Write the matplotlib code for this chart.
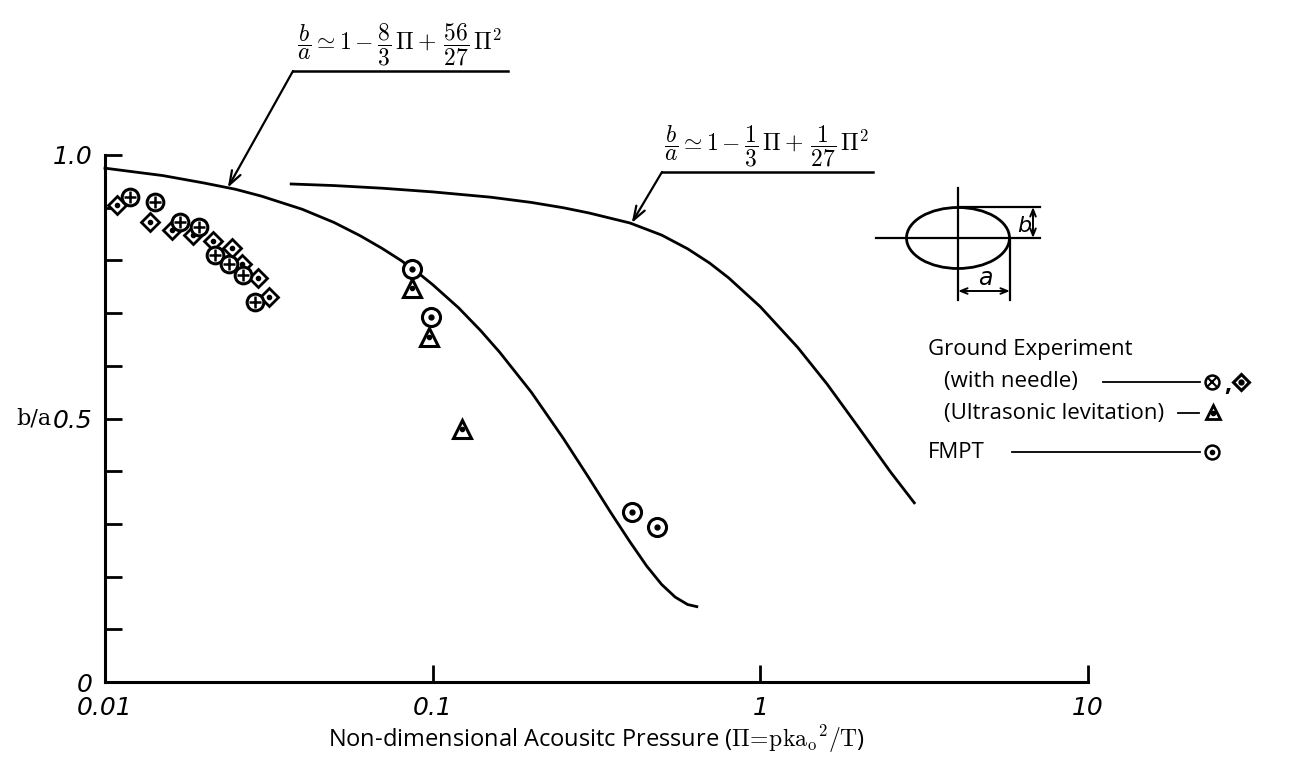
import numpy as np
import matplotlib
matplotlib.use("Agg")
import matplotlib.pyplot as plt
from matplotlib.patches import Ellipse

plt.rcParams['mathtext.fontset'] = 'cm'

# ---------------- data ----------------
# theory curve 1: b/a ~ 1 - 8/3 Pi + 56/27 Pi^2
curve1_pi = [0.01, 0.015, 0.02, 0.025, 0.03, 0.04, 0.05, 0.06, 0.07, 0.08, 0.09,
             0.10, 0.12, 0.14, 0.16, 0.20, 0.25, 0.30, 0.35, 0.40, 0.45, 0.50,
             0.55, 0.60, 0.64]
curve1_ba = [0.975, 0.961, 0.947, 0.935, 0.922, 0.897, 0.872, 0.847, 0.823, 0.800, 0.777,
             0.754, 0.710, 0.667, 0.626, 0.550, 0.463, 0.387, 0.321, 0.266, 0.220, 0.185,
             0.161, 0.147, 0.143]
# theory curve 2: b/a ~ 1 - 1/3 Pi + 1/27 Pi^2
curve2_pi = [0.037, 0.05, 0.07, 0.10, 0.15, 0.20, 0.25, 0.30, 0.40, 0.50, 0.60, 0.70, 0.80,
             1.0, 1.3, 1.6, 2.0, 2.5, 2.95]
curve2_ba = [0.945, 0.942, 0.937, 0.930, 0.920, 0.910, 0.900, 0.890, 0.871, 0.848, 0.822,
             0.795, 0.767, 0.712, 0.635, 0.565, 0.482, 0.398, 0.340]

# Ground experiment (with needle): crossed circles
needle_circ_pi = [0.0119, 0.0142, 0.0169, 0.0194, 0.0217, 0.0239, 0.0263, 0.0286]
needle_circ_ba = [0.921, 0.910, 0.872, 0.864, 0.810, 0.793, 0.772, 0.722]
# Ground experiment (with needle): diamonds
needle_diam_pi = [0.0109, 0.0137, 0.0160, 0.0185, 0.0213, 0.0244, 0.0261, 0.0294, 0.0317]
needle_diam_ba = [0.905, 0.872, 0.858, 0.848, 0.837, 0.823, 0.793, 0.767, 0.731]
# Ultrasonic levitation: triangles
ultra_pi = [0.0866, 0.0974, 0.1226]
ultra_ba = [0.747, 0.654, 0.481]
# FMPT: dotted circles
fmpt_pi = [0.0863, 0.0986, 0.405, 0.483]
fmpt_ba = [0.783, 0.693, 0.323, 0.294]

xticks = [0.01, 0.1, 1, 10]
xtick_labels = ['0.01', '0.1', '1', '10']
yticks = [0, 0.1, 0.2, 0.3, 0.4, 0.5, 0.6, 0.7, 0.8, 0.9, 1.0]
ytick_labels = ['0', '', '', '', '', '0.5', '', '', '', '', '1.0']

# ---------------- figure ----------------
W, H = 1299, 766
fig = plt.figure(figsize=(W / 100, H / 100), dpi=100)
fig.patch.set_facecolor('white')

L, R, B, T = 105, 1088, 682, 155
ax = fig.add_axes([L / W, 1 - B / H, (R - L) / W, (B - T) / H])
ax.set_xscale('log')
ax.set_xlim(0.01, 10)
ax.set_ylim(0, 1.0)
for s in ('top', 'right'):
    ax.spines[s].set_visible(False)
for s in ('left', 'bottom'):
    ax.spines[s].set_linewidth(2.2)
ax.set_xticks(xticks)
ax.set_xticklabels(xtick_labels)
ax.xaxis.set_minor_locator(matplotlib.ticker.NullLocator())
ax.set_yticks(yticks)
ax.set_yticklabels(ytick_labels)
ax.tick_params(axis='both', direction='in', length=12, width=2, labelsize=18)
ax.tick_params(axis='y', pad=9)
ax.tick_params(axis='x', pad=10)
for lab in ax.get_xticklabels() + ax.get_yticklabels():
    lab.set_fontstyle('italic')
    lab.set_family('DejaVu Sans')

ax.plot(curve1_pi, curve1_ba, color='black', lw=2.0, clip_on=False)
ax.plot(curve2_pi, curve2_ba, color='black', lw=2.0, clip_on=False)

mk = dict(linestyle='none', markerfacecolor='white', markeredgecolor='black', clip_on=False)
ax.plot(needle_diam_pi, needle_diam_ba, marker='D', ms=9, mew=2.0, **mk)
ax.plot(needle_diam_pi, needle_diam_ba, marker='o', ms=3, color='black', linestyle='none')
ax.plot(needle_circ_pi, needle_circ_ba, marker='o', ms=12, mew=2.2, **mk)
ax.plot(needle_circ_pi, needle_circ_ba, marker='+', ms=9, mew=1.8, color='black', linestyle='none')
ax.plot(ultra_pi, ultra_ba, marker='^', ms=13, mew=2.2, **mk)
ax.plot(ultra_pi, ultra_ba, marker='o', ms=3, color='black', linestyle='none')
ax.plot(fmpt_pi, fmpt_ba, marker='o', ms=13, mew=2.2, **mk)
ax.plot(fmpt_pi, fmpt_ba, marker='o', ms=3.5, color='black', linestyle='none')

ax.set_xlabel(r'Non-dimensional Acousitc Pressure ($\mathrm{\Pi\!=\!pka_o{}^{2}/T}$)',
              fontsize=17, family='Open Sans', labelpad=3)
ax.text(-0.072, 0.5, 'b/a', transform=ax.transAxes, fontsize=16, family='DejaVu Serif',
        ha='center', va='center')

# ---------------- overlay in pixel coordinates ----------------
ov = fig.add_axes([0, 0, 1, 1], zorder=5)
ov.set_xlim(0, W)
ov.set_ylim(H, 0)
ov.axis('off')
ov.patch.set_alpha(0)

# equations with leaders
eq1 = r'$\dfrac{b}{a}\simeq 1-\dfrac{8}{3}\,\Pi+\,\dfrac{56}{27}\,\Pi^2$'
eq2 = r'$\dfrac{b}{a}\simeq 1-\dfrac{1}{3}\,\Pi+\,\dfrac{1}{27}\,\Pi^2$'
ov.text(297, 68, eq1, fontsize=17, ha='left', va='bottom')
ov.plot([293, 508], [71, 71], color='black', lw=1.8)
ov.text(664, 169, eq2, fontsize=17, ha='left', va='bottom')
ov.plot([662, 873], [172, 172], color='black', lw=1.8)
arrowprops = dict(arrowstyle='->,head_length=1.0,head_width=0.35', color='black', lw=1.6,
                  shrinkA=0, shrinkB=0)
ax.annotate('', xy=(0.0237, 0.938), xycoords='data', xytext=(293, 71),
            textcoords=ov.transData, arrowprops=arrowprops, annotation_clip=False)
ax.annotate('', xy=(0.405, 0.871), xycoords='data', xytext=(662, 172),
            textcoords=ov.transData, arrowprops=arrowprops, annotation_clip=False)

# ellipse sketch
ov.add_patch(Ellipse((958, 238), 103, 61, fill=False, lw=2.0, color='black'))
ov.plot([876, 1040], [238, 238], color='black', lw=1.6)
ov.plot([958, 958], [188, 300], color='black', lw=1.6)
ov.plot([958, 1040], [207, 207], color='black', lw=1.6)
ov.plot([1010, 1010], [238, 300], color='black', lw=1.6)
small = dict(arrowstyle='<->,head_length=0.5,head_width=0.2', color='black', lw=1.4,
             shrinkA=0, shrinkB=0)
ov.annotate('', xy=(1033, 207), xytext=(1033, 238), arrowprops=small)
ov.annotate('', xy=(958, 291), xytext=(1010, 291), arrowprops=small)
ov.text(1024, 226, 'b', fontsize=16, family='DejaVu Sans', style='italic', ha='center', va='center')
ov.text(985, 278, 'a', fontsize=17, family='DejaVu Sans', style='italic', ha='center', va='center')

# legend
lf = dict(fontsize=16, family='Open Sans', va='center', ha='left')
ov.text(928, 350, 'Ground Experiment', **lf)
ov.text(944, 381, '(with needle)', **lf)
ov.plot([1103, 1200], [382, 382], color='black', lw=1.3)
ov.plot([1212], [382], marker='o', ms=10, mew=1.8, **mk)
ov.plot([1212], [382], marker='x', ms=6.5, mew=1.5, color='black')
ov.text(1224, 384, ',', fontsize=18, family='Open Sans', fontweight='bold', va='center')
ov.plot([1241], [382], marker='D', ms=8, mew=2.2, **mk)
ov.plot([1241], [382], marker='o', ms=3.5, color='black')
ov.text(944, 413, '(Ultrasonic levitation)', **lf)
ov.plot([1178, 1199], [413, 413], color='black', lw=1.3)
ov.plot([1213], [412], marker='^', ms=10, mew=2.0, **mk)
ov.plot([1213], [413], marker='o', ms=3, color='black')
ov.text(928, 452, 'FMPT', **lf)
ov.plot([1012, 1200], [452, 452], color='black', lw=1.3)
ov.plot([1212], [452], marker='o', ms=10, mew=1.8, **mk)
ov.plot([1212], [452], marker='o', ms=3, color='black')

fig.savefig('out.png', dpi=100, facecolor='white')
